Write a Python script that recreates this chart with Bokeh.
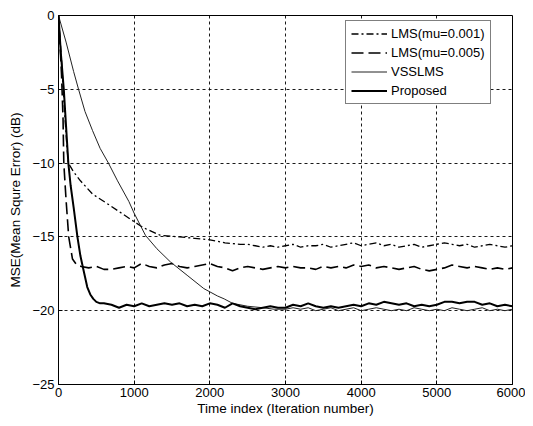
from bokeh.plotting import figure
from bokeh.models import Legend, LegendItem, FixedTicker
from bokeh.embed import file_html
from bokeh.resources import INLINE

# ---- data (iteration index, MSE in dB) ----
prop_x = [0, 30, 70, 100, 130, 160, 200, 250, 290, 320, 350, 380, 420, 460, 500, 550] + list(range(600, 6001, 100))
prop_y = [0.0, -2.5, -5.0, -7.5, -10.0, -11.5, -13.0, -15.0, -16.3, -17.0, -17.7, -18.4, -18.9, -19.2, -19.4, -19.5,
          -19.5, -19.6, -19.8, -19.6, -19.7, -19.5, -19.7, -19.6, -19.5, -19.6, -19.5, -19.7, -19.6, -19.7, -19.5,
          -19.6, -19.8, -19.5, -19.7, -19.8, -19.9, -19.8, -19.7, -19.8, -19.8, -19.6, -19.7, -19.5, -19.7, -19.8,
          -19.7, -19.8, -19.7, -19.6, -19.7, -19.5, -19.6, -19.4, -19.5, -19.6, -19.5, -19.7, -19.6, -19.7, -19.6,
          -19.4, -19.4, -19.5, -19.4, -19.4, -19.6, -19.5, -19.7, -19.6, -19.7]

vss_x = [0, 100, 200, 265, 350, 450, 550, 660, 780, 930, 1000, 1100, 1150, 1300, 1480, 1700, 1920, 2100, 2190, 2300,
         2500, 2700, 2850] + list(range(3000, 6001, 100))
vss_y = [0.0, -1.8, -3.8, -5.0, -6.5, -7.8, -9.0, -10.0, -11.2, -12.6, -13.4, -14.4, -14.9, -15.8, -16.7, -17.6, -18.5,
         -19.0, -19.2, -19.5, -19.7, -19.8, -19.9,
         -19.9, -19.8, -19.9, -19.8, -20.0, -19.9, -19.8, -20.0, -19.9, -19.8, -20.0, -19.9, -19.8, -19.9, -20.0,
         -19.9, -20.0, -19.8, -19.9, -20.0, -19.9, -20.0, -19.8, -19.9, -20.0, -19.9, -19.8, -20.0, -19.9, -20.0, -19.9]

mu5_x = [0, 20, 40, 60, 70, 100, 135, 185, 240] + list(range(300, 6001, 100))
mu5_y = [0.0, -2.0, -4.0, -7.0, -10.0, -12.5, -15.0, -16.5, -16.9,
         -17.0, -17.1, -17.0, -17.2, -17.2, -17.1, -17.0, -17.1, -16.8, -17.0, -17.1, -16.9, -16.8, -17.0, -17.1,
         -17.0, -16.9, -16.8, -17.0, -17.1, -17.3, -17.1, -17.0, -17.1, -17.2, -17.1, -17.0, -17.1, -17.0, -17.1,
         -17.1, -17.2, -17.0, -17.1, -17.0, -17.1, -16.9, -17.0, -16.9, -17.1, -17.0, -17.1, -17.2, -17.1, -17.0,
         -17.2, -17.3, -17.2, -17.1, -16.9, -17.0, -17.1, -17.0, -17.1, -17.2, -17.1, -17.2, -17.1]

mu1_x = [0, 40, 80, 110, 130, 200, 290, 450, 690, 950, 1130, 1350, 1600, 1800, 2000, 2200, 2400] + list(range(2500, 6001, 100))
mu1_y = [0.0, -3.0, -6.5, -8.8, -10.0, -10.6, -11.2, -12.1, -12.9, -13.8, -14.4, -14.9, -15.0, -15.1, -15.2, -15.4, -15.5,
         -15.5, -15.6, -15.7, -15.6, -15.7, -15.6, -15.5, -15.7, -15.6, -15.6, -15.5, -15.7, -15.6, -15.5, -15.4,
         -15.6, -15.5, -15.4, -15.6, -15.5, -15.7, -15.6, -15.5, -15.7, -15.6, -15.5, -15.4, -15.5, -15.6, -15.5,
         -15.7, -15.6, -15.5, -15.6, -15.7, -15.6]

x_ticks = [0, 1000, 2000, 3000, 4000, 5000, 6000]
y_ticks = [-25, -20, -15, -10, -5, 0]

FONT = "Liberation Sans"

p = figure(width=525, height=418, x_range=(0, 6000), y_range=(-25, 0),
           output_backend="svg", toolbar_location=None,
           min_border_left=58, min_border_right=13, min_border_top=15, min_border_bottom=32,
           background_fill_color="white", border_fill_color="white")

p.outline_line_color = "black"
p.outline_line_width = 1

for ax in (p.xaxis[0], p.yaxis[0]):
    ax.major_label_text_font = FONT
    ax.major_label_text_font_size = "13px"
    ax.major_label_text_color = "black"
    ax.axis_label_text_font = FONT
    ax.axis_label_text_font_size = "13.5px"
    ax.axis_label_text_font_style = "normal"
    ax.axis_label_text_color = "black"
    ax.major_tick_in = 4
    ax.major_tick_out = 0
    ax.minor_tick_line_color = None
    ax.axis_line_color = "black"
    ax.major_tick_line_color = "black"

p.xaxis[0].ticker = FixedTicker(ticks=x_ticks)
p.yaxis[0].ticker = FixedTicker(ticks=y_ticks)
p.xaxis[0].axis_label = "Time index (Iteration number)"
p.yaxis[0].axis_label = "MSE(Mean Squre Error) (dB)"
p.xaxis[0].axis_label_standoff = 1
p.yaxis[0].axis_label_standoff = 6
p.xaxis[0].major_label_standoff = 3
p.yaxis[0].major_label_standoff = 4

p.xgrid.ticker = FixedTicker(ticks=x_ticks)
p.ygrid.ticker = FixedTicker(ticks=y_ticks)
for g in (p.xgrid[0], p.ygrid[0]):
    g.grid_line_color = "black"
    g.grid_line_dash = "3 3"
    g.grid_line_width = 1
    g.grid_line_alpha = 0.9

r1 = p.line(mu1_x, mu1_y, line_color="black", line_width=1.3, line_dash="7 3 2 3")
r2 = p.line(mu5_x, mu5_y, line_color="black", line_width=1.6, line_dash="12 5")
r3 = p.line(vss_x, vss_y, line_color="#222222", line_width=1)
r4 = p.line(prop_x, prop_y, line_color="black", line_width=2)

legend = Legend(items=[LegendItem(label="LMS(mu=0.001)", renderers=[r1]),
                       LegendItem(label="LMS(mu=0.005)", renderers=[r2]),
                       LegendItem(label="VSSLMS", renderers=[r3]),
                       LegendItem(label="Proposed", renderers=[r4])],
                location=(287, 280))
legend.label_text_font = FONT
legend.label_text_font_size = "13px"
legend.label_text_color = "black"
legend.glyph_width = 36
legend.glyph_height = 15
legend.label_height = 15
legend.label_standoff = 4
legend.spacing = 4
legend.padding = 5
legend.margin = 0
legend.border_line_color = "black"
legend.border_line_width = 1
legend.background_fill_color = "white"
legend.background_fill_alpha = 1
p.add_layout(legend, "center")

open("out.html", "w").write(file_html(p, INLINE))
